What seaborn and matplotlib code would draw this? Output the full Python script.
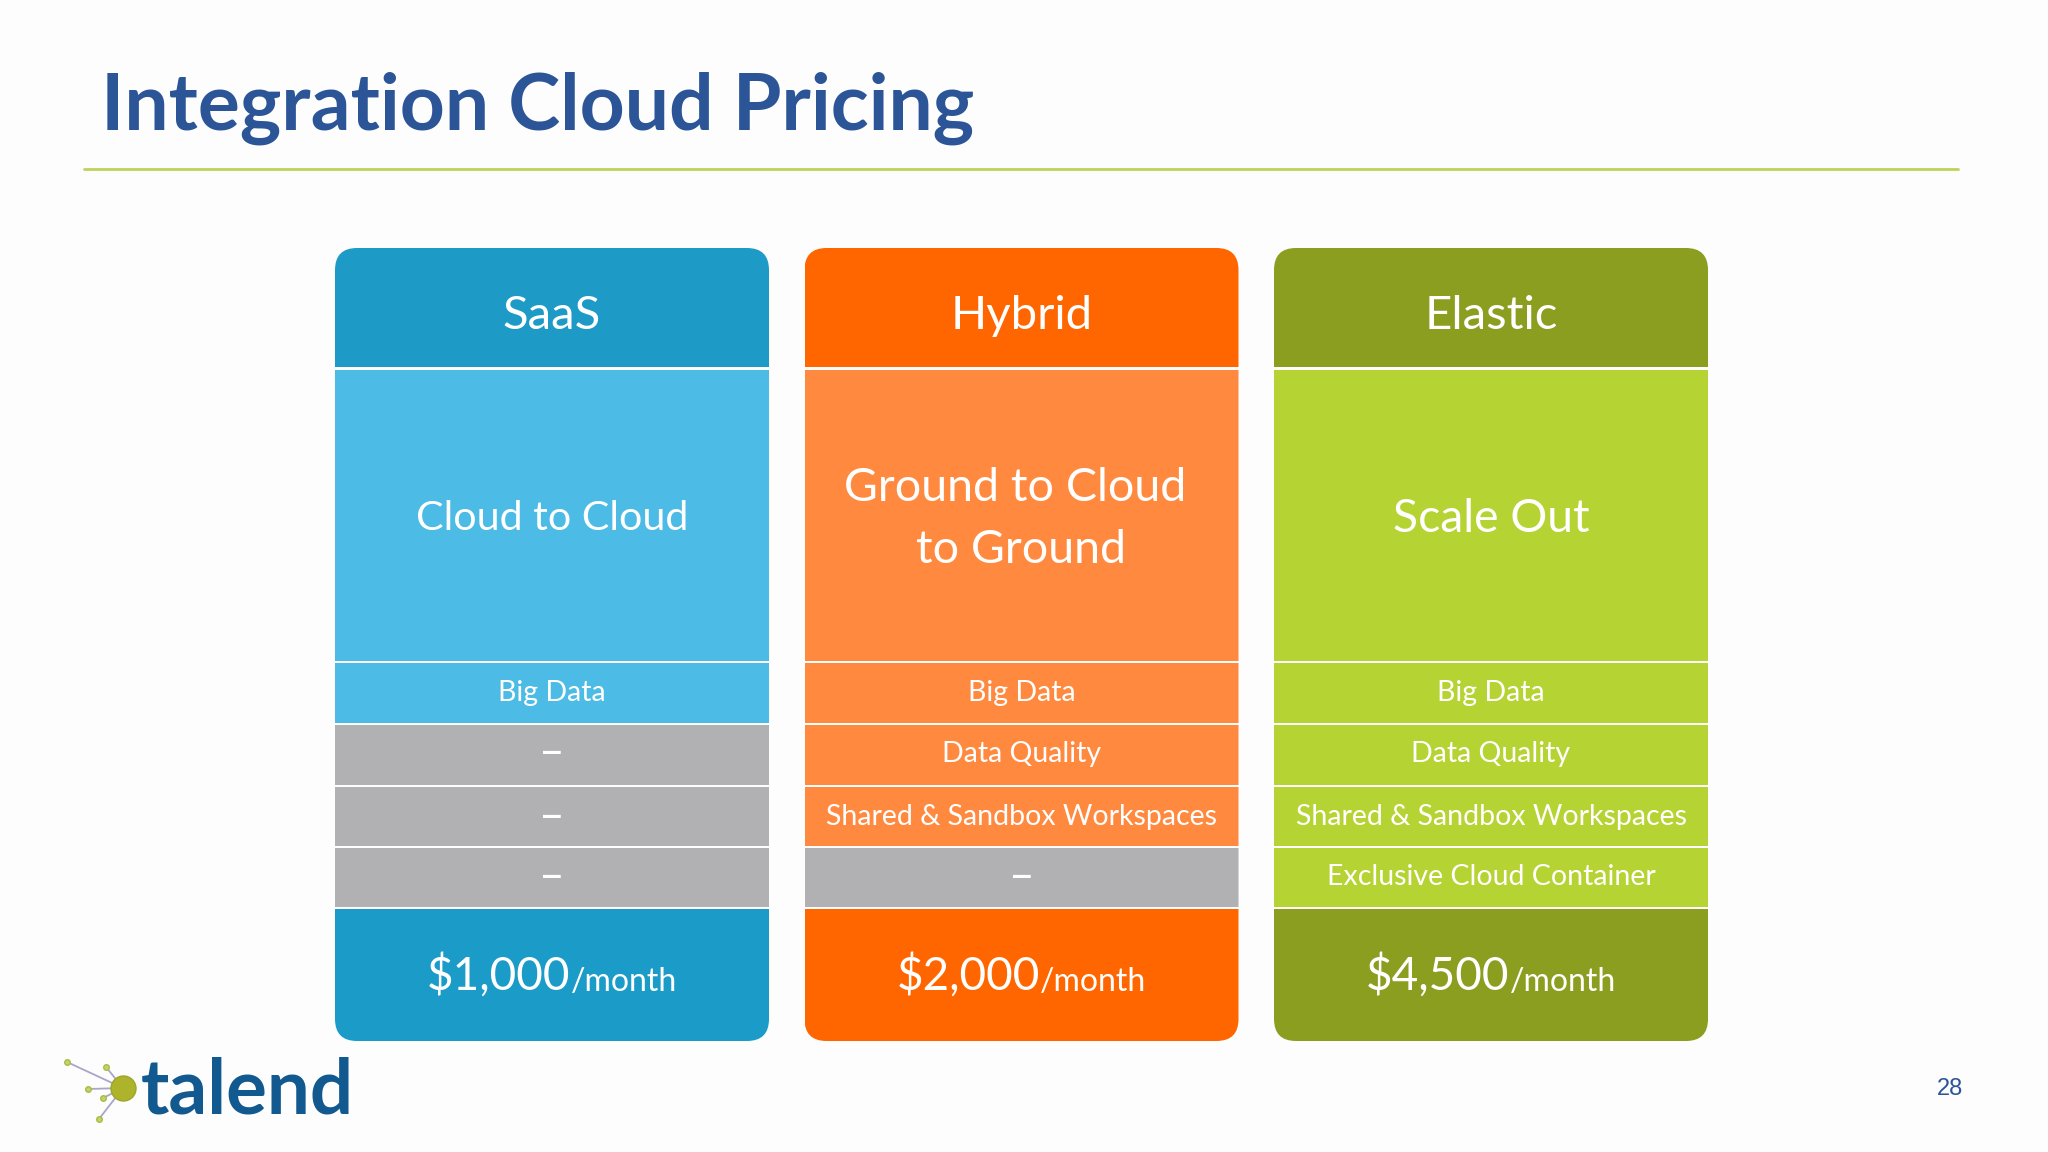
import matplotlib
matplotlib.use("Agg")
import matplotlib.pyplot as plt
from matplotlib.patches import FancyBboxPatch
from matplotlib.transforms import IdentityTransform
import seaborn as sns

sns.set_theme(style="white")
plt.rcParams['font.family'] = ['Lato', 'DejaVu Sans']

TITLE = "Integration Cloud Pricing"
PAGE = "28"
LOGO = "talend"
plans = ["SaaS", "Hybrid", "Elastic"]
scopes = ["Cloud to Cloud", "Ground to Cloud \nto Ground", "Scale Out"]
feature_1 = ["Big Data", "Big Data", "Big Data"]
feature_2 = ["–", "Data Quality", "Data Quality"]
feature_3 = ["–", "Shared & Sandbox Workspaces", "Shared & Sandbox Workspaces"]
feature_4 = ["–", "–", "Exclusive Cloud Container"]
prices = [1000, 2000, 4500]
period = "/month"

dark = ["#1E9AC7", "#FF6600", "#8B9E20"]
light = ["#4CBBE6", "#FF8A3F", "#B6D334"]
price_col = ["#1A9BC8", "#FF6600", "#8B9E20"]
gray = "#B1B1B3"
edges = [248, 368, 661, 723, 785, 846, 907, 1041]

W, H = 2048, 1152
fig = plt.figure(figsize=(W / 100, H / 100), dpi=100, facecolor="#FDFDFE")
ax = fig.add_axes([0, 0, 1, 1])
ax.set_facecolor("#FDFDFE")


def cell_colors(labels):
    return [gray if t == "–" else c for t, c in zip(labels, light)]


rows = [
    (plans, dark, 34),
    (scopes, light, None),
    (feature_1, cell_colors(feature_1), 20.5),
    (feature_2, cell_colors(feature_2), 20.5),
    (feature_3, cell_colors(feature_3), 20.5),
    (feature_4, cell_colors(feature_4), 20.5),
    ([f"${p:,}" for p in prices], price_col, 33),
]
scope_sizes = [29.6, 33.5, 33.3]

PITCH = 469.5
CW = 434.0
GAP = 1.5
for r, (labels, cols, fs) in enumerate(rows):
    top, bot = edges[r], edges[r + 1]
    sns.barplot(x=plans, y=[bot - top - GAP] * 3, hue=plans, palette=cols, saturation=1,
                legend=False, width=CW / PITCH, bottom=top + (GAP if r else 0), ax=ax,
                linewidth=0, errorbar=None)

ax.set_xlim((0 - (335 + CW / 2)) / PITCH, (W - (335 + CW / 2)) / PITCH)
ax.set_ylim(H, 0)
ax.axis("off")


def to_x(px):
    return (px - (335 + CW / 2)) / PITCH


# rounded column outline clips all cells of a column (pixel space, origin bottom-left)
R = 22
patches = list(ax.patches)
for i in range(3):
    x0 = 335 + i * PITCH
    clip = FancyBboxPatch((x0 + R, H - edges[-1] + R), CW - 2 * R, edges[-1] - edges[0] - 2 * R,
                          boxstyle=f"round,pad={R},rounding_size={R}",
                          transform=IdentityTransform())
    for p in patches:
        if abs(p.get_x() + p.get_width() / 2 - i) < 0.3:
            p.set_clip_path(clip)

fig.canvas.draw()
rend = fig.canvas.get_renderer()

# cell texts
ys = [316, 519, 693, 754, 817, 877]
for r, (labels, cols, fs) in enumerate(rows[:-1]):
    for i, t in enumerate(labels):
        size = scope_sizes[i] if fs is None else fs
        if t == "–":
            size = 32
        ax.text(i, ys[r], t, color="white", ha="center", va="center", fontsize=size,
                linespacing=1.57)

# prices
for i, p in enumerate(prices):
    a = ax.text(i, 990, f"${p:,}", color="white", fontsize=33, ha="left", va="baseline")
    b = ax.text(i, 991, period, color="white", fontsize=23, ha="left", va="baseline")
    wa = a.get_window_extent(rend).width
    wb = b.get_window_extent(rend).width
    cx = 335 + CW / 2 + i * PITCH
    a.set_x(to_x(cx - (wa + wb) / 2))
    b.set_x(to_x(cx - (wa + wb) / 2 + wa))

# header
ax.text(to_x(101), 130, TITLE, color="#2B5597", fontsize=56.6, fontweight="bold", ha="left", va="baseline")
ax.plot([to_x(84), to_x(1958)], [169, 169], color="#BCD45A", lw=2)

# page number and logo
ax.text(to_x(1963), 1089, PAGE, color="#2B5597", fontsize=17, family="Liberation Sans", ha="right", va="center")
ax.text(to_x(141), 1114, LOGO, color="#11598F", fontsize=55, fontweight="bold", ha="left", va="baseline")
nodes = [(67, 1062), (106, 1067), (88, 1089), (103, 1098), (99, 1119)]
for nx, ny in nodes:
    ax.plot([to_x(nx), to_x(123)], [ny, 1088], color="#A9A6C9", lw=1.3, zorder=4)
    ax.plot([to_x(nx)], [ny], "o", ms=4, mfc="#C4D46A", mec="#A8BC40", mew=1, zorder=5)
ax.plot([to_x(123)], [1088], "o", ms=18, mfc="#AEB32C", mec="#A0A528", zorder=6)

fig.savefig("out.png", dpi=100, facecolor=fig.get_facecolor())
